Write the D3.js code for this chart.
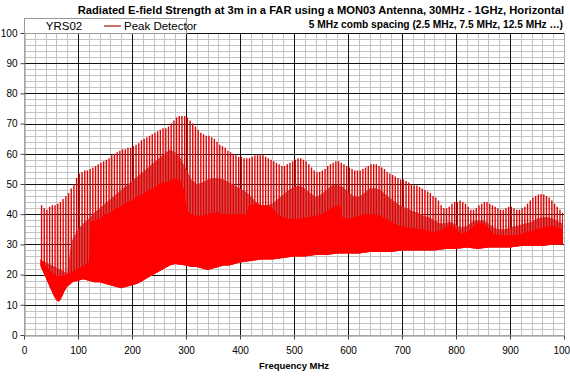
<!DOCTYPE html>
<html><head><meta charset="utf-8">
<script src="https://cdn.jsdelivr.net/npm/d3@7"></script>
<style>body{margin:0;background:#fff}svg{display:block}</style>
</head><body>
<svg id="c" width="570" height="380"></svg>
<script>
// ---------- data ----------
const titleLine1 = "Radiated E-field Strength at 3m in a FAR using a MON03 Antenna, 30MHz - 1GHz, Horizontal";
const titleLine2 = "5 MHz comb spacing (2.5 MHz, 7.5 MHz, 12.5 MHz \u2026)";
const xLabel = "Frequency MHz";
const seriesName = "YRS02";
const legendLabel = "Peak Detector";
const xTicks = [0,100,200,300,400,500,600,700,800,900,1000];
const yTicks = [0,10,20,30,40,50,60,70,80,90,100];

// comb line frequencies (MHz) and peak levels (dBuV/m)
const combFreqs = d3.range(32.5, 1000, 5);
const combPeaks = [
 43,42,41.5,42.5,43,43,43.5,44,45,46,
 47,48.5,50,52,53.5,54,54.5,54.5,55,55.5,
 56,56.5,57,57.5,58,58.5,59.5,60,60.5,61,
 61.5,61.5,62,62,62.5,63,63.5,64.5,65,65.5,
 66,66.5,67,67.5,68,68.5,68.5,69,70,71,
 72,72.5,72.5,72.5,72,71,70,69,68,67,
 66.5,66,66,65.5,65,64,63,62.5,62,61,
 60.5,60,59.5,59,59,58.5,58.5,58.5,59,59.5,
 59.5,59.5,59.5,59,58.5,58,57.5,57,56.5,56,
 56,56.5,57,57.5,58,58.5,58.5,58,57.5,56.5,
 55.5,54.5,54,54,54.5,55,56,56.5,57,57.5,
 57.5,57,56.5,56,55.5,55,54.5,54.5,54.5,55,
 55.5,56,56.5,56.5,56.5,56,55.5,55,54,53.5,
 53,52.5,52,51.5,51.5,51,50.5,50,49.5,49.5,
 49,48.5,48,47.5,47,46,45.5,44.5,43,42,
 42,42.5,43.5,44,44,44.5,44,43.5,42.5,41.5,
 41.5,42,43,43.5,44,44,43.5,43,42.5,42,
 41.5,41.5,42,42.5,42.5,42,41.5,41.5,42,42.5,
 43.5,44.5,45.5,46,46.5,46.7,46.5,46,45.5,44.5,
 43.5,42.5,41.5,40.5
];

// upper edge of the dense (pink) band
const bandFreqs = [30,80,88,100,110,120,130,140,150,160,170,180,190,200,210,220,230,240,250,260,270,280,290,300,310,320,330,340,350,360,370,380,390,400,410,420,430,440,450,460,470,480,490,500,510,520,530,540,550,560,570,580,590,600,610,620,630,640,650,660,670,680,690,700,710,720,730,740,750,760,770,780,790,800,810,820,830,840,850,860,870,880,890,900,910,920,930,940,950,960,970,980,990,998];
const bandLevels = [25,20.5,31,35,37,38.5,40.5,42,43.5,45,46.5,48,49.5,51,52.5,54,55.5,57,58.5,60,61.3,60.5,58.5,55,51.5,50,50.5,51.5,52,52,51.5,50.5,49.5,48.5,47.5,46,44,43,43,43.5,45,46.5,48,49,49.5,48.5,47,45.8,46.5,48,49.5,49.7,49,47.5,46,45.8,47,48.5,48.6,48,46.5,45,43.7,42.5,42,41,40.5,39.5,39,38,37,37,37.5,36.5,35.5,36,37.5,38,38,37,35.5,35,35,35.5,36,36.5,37,37.5,38.5,39,39,38.5,37.5,37];

// upper edge of the solid noise region
const solidFreqs = [30,35,40,50,60,70,80,90,100,110,120,123,130,140,150,160,170,180,190,200,210,220,230,240,250,260,270,280,290,297,302,310,320,330,340,350,360,370,380,390,400,413,416,430,440,450,460,470,480,490,500,510,520,530,540,550,560,570,580,585,590,600,610,620,630,640,650,660,670,680,690,700,710,720,730,740,750,760,770,780,790,800,810,820,830,840,850,860,870,880,890,900,910,920,930,940,950,960,970,980,990,998];
const solidLevels = [25,24.5,23,21,19.5,19.5,20,21,22,23,24,37.5,38,38.5,40,40.5,42,42.5,44,44.5,46,46.5,48,48.5,50,50.5,51,52,51,48,41,40,39.5,39.5,40,40.5,40.5,40,40,40,40,40,43,43.5,43,43,42,40,39,38.5,38.5,38.5,39,39,39.5,40,41,42,43,43,39,38.5,39,39.5,40,40,40,39.5,38.5,37.5,36.5,36,35.5,35.5,35,35,34.5,34,34.5,35.5,36.5,35,33.5,34,35.5,37,37,35.5,33.5,33,33,33,33,33.5,34,34.5,35,35.5,36,36,35.5,35];

// noise floor (lower edge)
const floorFreqs = [30,35,40,45,50,55,60,65,70,75,80,90,100,110,120,130,140,150,160,170,180,190,200,210,220,230,240,250,260,270,280,290,300,310,320,330,340,350,360,370,380,390,400,420,440,460,480,500,520,540,560,580,600,620,640,660,680,700,720,740,760,780,800,820,840,860,880,900,920,940,960,980,998];
const floorLevels = [23,21,19,17,15,13,11.5,11,12.5,14.5,16,17.5,18,18.5,18,17.5,17.5,17,16.5,16,15.5,16,16.5,17,18,19,20,21,22,23,23.5,23.3,23,22.5,22.5,22,21.5,22,22.5,23,23,23.5,24,24.5,25,25,25.5,26,26,26.5,26.5,27,27,27,27.5,27.5,27.5,28,28,28,28,28.5,28.5,29,28.5,29,29,29,29.5,29.5,29.5,30,30];

// ---------- drawing ----------
const FONT = "Liberation Sans, Arial, sans-serif";
const svg = d3.select("#c");
const L=24, R=564, T=33, B=335;
const x = d3.scaleLinear().domain([0,1000]).range([L,R]);
const y = d3.scaleLinear().domain([0,100]).range([B,T]);

// grid
const g = svg.append("g");
g.selectAll(".vmin").data(d3.range(0,1001,20)).join("line")
  .attr("x1",d=>Math.round(x(d))+0.5).attr("x2",d=>Math.round(x(d))+0.5)
  .attr("y1",T).attr("y2",B).attr("stroke","#c4c4c4").attr("stroke-width",1);
g.selectAll(".hmin").data(d3.range(0,101,2)).join("line")
  .attr("y1",d=>Math.round(y(d))+0.5).attr("y2",d=>Math.round(y(d))+0.5)
  .attr("x1",L).attr("x2",R).attr("stroke","#c4c4c4").attr("stroke-width",1);
g.selectAll(".vmaj").data(xTicks.filter(d=>d>0&&d<1000)).join("line")
  .attr("x1",d=>Math.round(x(d))+0.5).attr("x2",d=>Math.round(x(d))+0.5)
  .attr("y1",T).attr("y2",B).attr("stroke","#111").attr("stroke-width",1);
g.selectAll(".hmaj").data(yTicks.filter(d=>d>0)).join("line")
  .attr("y1",d=>Math.round(y(d))+0.5).attr("y2",d=>Math.round(y(d))+0.5)
  .attr("x1",L).attr("x2",R).attr("stroke","#111").attr("stroke-width",1);

// band / clip
const band = d3.area().x(d=>x(d[0])).y0(y(0)).y1(d=>y(d[1])).curve(d3.curveLinear);
const defs = svg.append("defs");
defs.append("clipPath").attr("id","aboveFloor").append("path")
  .attr("d", d3.area().x(d=>x(d[0])).y0(d=>y(d[1])).y1(y(100))(floorFreqs.map((f,i)=>[f,floorLevels[i]])));

const data = svg.append("g").attr("clip-path","url(#aboveFloor)");
data.append("path").attr("d", band(bandFreqs.map((f,i)=>[f,bandLevels[i]])))
  .attr("fill","#d45050");
data.selectAll(".spk").data(combFreqs.map((f,i)=>[f,combPeaks[i]])).join("line")
  .attr("x1",d=>x(d[0])).attr("x2",d=>x(d[0]))
  .attr("y1",d=>y(d[1])).attr("y2",y(0))
  .attr("stroke","#e00000").attr("stroke-width",1.4);
data.append("path").attr("d", band(solidFreqs.map((f,i)=>[f,solidLevels[i]])))
  .attr("fill","#ff0000");

// axes
const ax = svg.append("g").attr("transform",`translate(0,${B+0.5})`)
  .call(d3.axisBottom(x).tickValues(xTicks).tickSize(4).tickFormat(d3.format("d")));
ax.select(".domain").attr("stroke","#888");
ax.selectAll(".tick line").attr("stroke","#444");
ax.selectAll("text").attr("font-family",FONT).attr("font-size",10).attr("fill","#000").attr("dy","1.1em");
const ay = svg.append("g").attr("transform",`translate(${L+0.5},0)`)
  .call(d3.axisLeft(y).tickValues(yTicks).tickSize(4).tickFormat(d3.format("d")));
ay.select(".domain").attr("stroke","#888");
ay.selectAll(".tick line").attr("stroke","#444");
ay.selectAll("text").attr("font-family",FONT).attr("font-size",10).attr("fill","#000");
svg.append("line").attr("x1",R+0.5).attr("x2",R+0.5).attr("y1",T).attr("y2",B).attr("stroke","#aaa");

// titles
svg.append("text").attr("x",564).attr("y",14).attr("text-anchor","end")
  .attr("font-family",FONT).attr("font-weight","bold").attr("font-size",11.2)
  .text(titleLine1);
svg.append("text").attr("x",563).attr("y",28).attr("text-anchor","end")
  .attr("font-family",FONT).attr("font-weight","bold").attr("font-size",10.2)
  .text(titleLine2);
svg.append("text").attr("x",294).attr("y",369).attr("text-anchor","middle")
  .attr("font-family",FONT).attr("font-weight","bold").attr("font-size",9.5)
  .text(xLabel);

// legend
const lg = svg.append("g");
lg.append("rect").attr("x",24.5).attr("y",18.5).attr("width",162).attr("height",15)
  .attr("fill","#fff").attr("stroke","#999");
lg.append("text").attr("x",64).attr("y",30).attr("text-anchor","middle")
  .attr("font-family",FONT).attr("font-size",11.5).text(seriesName);
lg.append("line").attr("x1",104).attr("x2",121).attr("y1",26).attr("y2",26).attr("stroke","#a01010").attr("stroke-width",1.2);
lg.append("text").attr("x",124).attr("y",30)
  .attr("font-family",FONT).attr("font-size",11.5).text(legendLabel);
</script>
</body></html>
